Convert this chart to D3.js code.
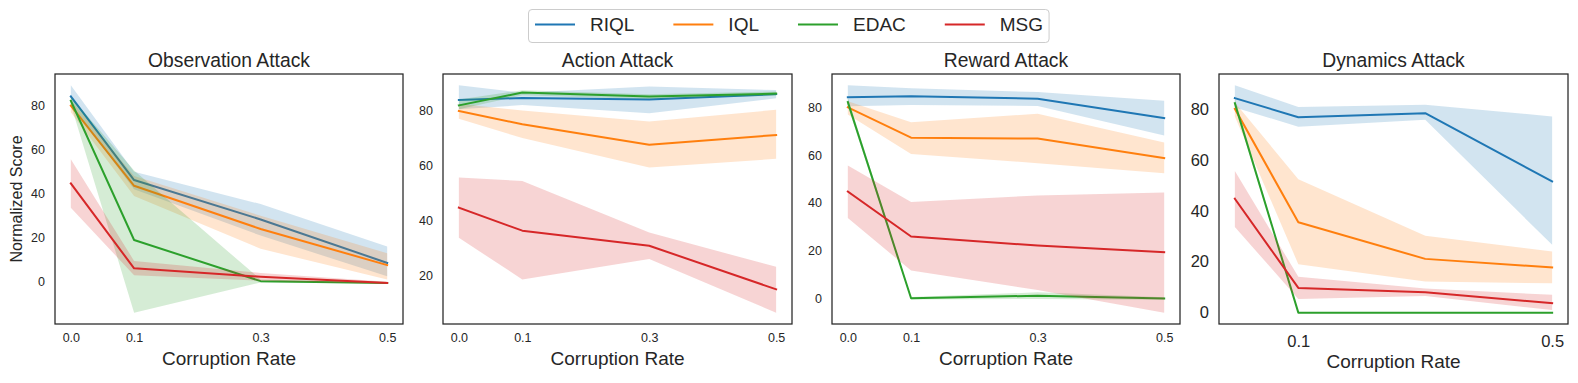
<!DOCTYPE html>
<html>
<head>
<meta charset="utf-8">
<script src="https://cdn.jsdelivr.net/npm/d3@7"></script>
<style>
  body { margin: 0; background: #fff; }
  svg { display: block; font-family: "Liberation Sans", Arial, sans-serif; }
</style>
</head>
<body>
<script>
const methods = ["RIQL", "IQL", "EDAC", "MSG"];
const rates = [0.0, 0.1, 0.3, 0.5];

// rows follow methods order
const obsMean = [[84.2, 46.2, 28.3, 8.6], [80.0, 43.6, 24.0, 7.6], [82.2, 19.0, 0.3, -0.5], [44.7, 6.1, 2.3, -0.5]];
const obsLow = [[80.5, 42.0, 21.0, 2.5], [77.0, 39.0, 15.0, 1.0], [80.5, -14.0, -0.3, -0.8], [33.6, 3.0, 0.5, -1.0]];
const obsHigh = [[89.2, 50.0, 35.3, 16.0], [82.5, 48.0, 30.0, 13.0], [84.0, 50.5, 1.0, -0.2], [55.6, 9.5, 4.0, 0.0]];

const actMean = [[83.9, 84.6, 84.0, 86.0], [79.9, 75.0, 67.5, 71.1], [81.9, 86.6, 85.1, 86.2], [44.6, 36.2, 30.7, 14.8]];
const actLow = [[80.5, 82.0, 79.0, 84.5], [77.0, 70.0, 59.2, 62.4], [80.5, 85.6, 84.2, 85.4], [33.6, 18.4, 25.9, 6.3]];
const actHigh = [[89.2, 86.5, 88.8, 87.5], [82.5, 80.0, 76.0, 80.3], [84.0, 87.4, 86.0, 87.0], [55.6, 54.3, 35.5, 23.0]];

const rewMean = [[84.2, 84.6, 83.6, 75.5], [80.0, 67.3, 66.9, 58.7], [82.2, 0.0, 1.1, -0.1], [44.7, 25.9, 22.1, 19.3]];
const rewLow = [[80.5, 81.0, 80.6, 68.2], [77.0, 60.5, 56.6, 52.4], [80.5, -0.5, -0.3, -0.6], [33.6, 11.6, 3.5, -6.0]];
const rewHigh = [[89.2, 88.0, 86.4, 82.8], [82.5, 73.8, 77.3, 65.3], [84.0, 0.5, 2.5, 0.4], [55.6, 40.3, 43.1, 44.3]];

const dynMean = [[84.2, 76.7, 78.3, 51.5], [80.0, 35.5, 21.1, 17.7], [82.2, 0.0, 0.0, 0.0], [44.7, 9.7, 8.0, 3.7]];
const dynLow = [[80.5, 73.0, 75.7, 26.6], [77.0, 19.0, 12.2, 11.5], [80.5, 0.0, 0.0, 0.0], [33.6, 5.4, 6.5, 1.0]];
const dynHigh = [[89.2, 80.7, 81.6, 77.0], [82.5, 52.4, 30.2, 24.0], [84.0, 0.0, 0.0, 0.0], [55.6, 14.1, 9.5, 7.0]];

const titles = ["Observation Attack", "Action Attack", "Reward Attack", "Dynamics Attack"];
const yTicksObs = [0, 20, 40, 60, 80];
const yTicksAct = [20, 40, 60, 80];
const xTicksAll = [0.0, 0.1, 0.3, 0.5];
const xTicksDyn = [0.1, 0.5];

const colors = ["#1f77b4", "#ff7f0e", "#2ca02c", "#d62728"];
const textColor = "#262626";

const width = 1578, height = 383;
const svg = d3.select("body").append("svg").attr("width", width).attr("height", height);

const panels = [
  { left: 55, right: 403, mean: obsMean, low: obsLow, high: obsHigh, yTicks: yTicksObs, xTicks: xTicksAll, tickSize: 12.5 },
  { left: 443, right: 792, mean: actMean, low: actLow, high: actHigh, yTicks: yTicksAct, xTicks: xTicksAll, tickSize: 12.5 },
  { left: 832, right: 1180, mean: rewMean, low: rewLow, high: rewHigh, yTicks: yTicksObs, xTicks: xTicksAll, tickSize: 12.5 },
  { left: 1219, right: 1568, mean: dynMean, low: dynLow, high: dynHigh, yTicks: yTicksObs, xTicks: xTicksDyn, tickSize: 16.5 }
];
const plotTop = 74, plotBottom = 324;

panels.forEach((p, pi) => {
  const g = svg.append("g");

  // matplotlib-like 5% margins
  const xr = d3.extent(rates);
  const xPad = (xr[1] - xr[0]) * 0.05;
  const x = d3.scaleLinear().domain([xr[0] - xPad, xr[1] + xPad]).range([p.left, p.right]);

  const yMin = d3.min(p.low.flat().concat(p.mean.flat()));
  const yMax = d3.max(p.high.flat().concat(p.mean.flat()));
  const yPad = (yMax - yMin) * 0.05;
  const y = d3.scaleLinear().domain([yMin - yPad, yMax + yPad]).range([plotBottom, plotTop]);

  const clipId = "clip" + pi;
  g.append("clipPath").attr("id", clipId)
    .append("rect").attr("x", p.left).attr("y", plotTop)
    .attr("width", p.right - p.left).attr("height", plotBottom - plotTop);

  const plot = g.append("g").attr("clip-path", `url(#${clipId})`);

  methods.forEach((m, mi) => {
    const pts = rates.map((r, i) => ({ r: r, v: p.mean[mi][i], lo: p.low[mi][i], hi: p.high[mi][i] }));
    const area = d3.area().x(d => x(d.r)).y0(d => y(d.lo)).y1(d => y(d.hi));
    const line = d3.line().x(d => x(d.r)).y(d => y(d.v));
    plot.append("path").attr("d", area(pts))
      .attr("fill", colors[mi]).attr("fill-opacity", 0.2);
    plot.append("path").attr("d", line(pts))
      .attr("fill", "none").attr("stroke", colors[mi])
      .attr("stroke-width", 2).attr("stroke-linejoin", "round").attr("stroke-linecap", "square");
  });

  // y axis (no tick marks, seaborn white style)
  const yAxis = d3.axisLeft(y).tickValues(p.yTicks).tickSize(0).tickPadding(10).tickFormat(d3.format("d"));
  g.append("g").attr("transform", `translate(${p.left},0)`).call(yAxis)
    .call(a => a.select(".domain").remove())
    .selectAll("text").attr("fill", textColor).style("font-size", p.tickSize + "px")
    .style("font-family", "Liberation Sans, Arial, sans-serif");

  const xAxis = d3.axisBottom(x).tickValues(p.xTicks).tickSize(0).tickPadding(pi === 3 ? 11 : 9).tickFormat(d3.format(".1f"));
  g.append("g").attr("transform", `translate(0,${plotBottom})`).call(xAxis)
    .call(a => a.select(".domain").remove())
    .selectAll("text").attr("fill", textColor).style("font-size", p.tickSize + "px")
    .style("font-family", "Liberation Sans, Arial, sans-serif");

  // frame
  g.append("rect").attr("x", p.left).attr("y", plotTop)
    .attr("width", p.right - p.left).attr("height", plotBottom - plotTop)
    .attr("fill", "none").attr("stroke", textColor).attr("stroke-width", 1.25);

  g.append("text").attr("x", (p.left + p.right) / 2).attr("y", 66.5)
    .attr("text-anchor", "middle").attr("fill", textColor)
    .style("font-size", "19.3px").text(titles[pi]);

  g.append("text").attr("x", (p.left + p.right) / 2).attr("y", pi === 3 ? 368 : 365)
    .attr("text-anchor", "middle").attr("fill", textColor)
    .style("font-size", "19px").text("Corruption Rate");

  if (pi === 0) {
    g.append("text").attr("transform", `translate(22,${(plotTop + plotBottom) / 2}) rotate(-90)`)
      .attr("text-anchor", "middle").attr("fill", textColor)
      .style("font-size", "16px").text("Normalized Score");
  }
});

// legend
const legend = svg.append("g");
const legBox = legend.append("rect").attr("x", 528.5).attr("y", 9.5).attr("height", 33)
  .attr("rx", 3.5).attr("fill", "#fff").attr("stroke", "#cccccc").attr("stroke-width", 1);
let cx = 535;
methods.forEach((m, mi) => {
  legend.append("line").attr("x1", cx).attr("x2", cx + 40).attr("y1", 24.5).attr("y2", 24.5)
    .attr("stroke", colors[mi]).attr("stroke-width", 2);
  const t = legend.append("text").attr("x", cx + 55).attr("y", 31).attr("fill", textColor)
    .style("font-size", "19px").text(m);
  cx = cx + 55 + t.node().getComputedTextLength() + 39;
});
legBox.attr("width", cx - 39 + 6 - 528.5);
</script>
</body>
</html>
